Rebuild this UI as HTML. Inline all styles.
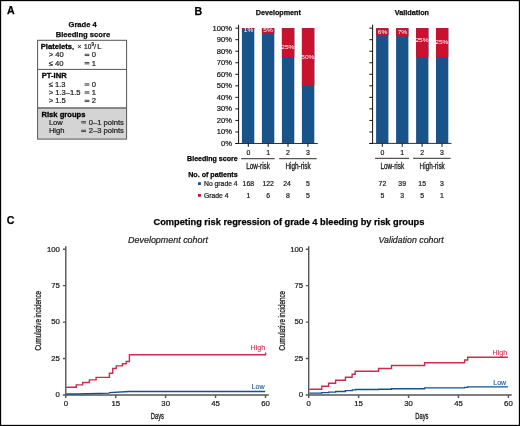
<!DOCTYPE html>
<html><head><meta charset="utf-8">
<style>
html,body{margin:0;padding:0;background:#fff;}
body{width:520px;height:426px;overflow:hidden;}
svg{display:block;font-family:"Liberation Sans",sans-serif;will-change:transform;}
.b{font-weight:bold;}
</style></head>
<body>
<svg width="520" height="426" viewBox="0 0 520 426">

<rect x="0.55" y="0.55" width="518.9" height="424.9" fill="none" stroke="#000" stroke-width="1.2"/>

<text x="7.0" y="14.2" font-size="10.6" class="b" fill="#000" stroke="#000" stroke-width="0.25">A</text>
<text x="82.6" y="27.2" font-size="7.55" class="b" text-anchor="middle" fill="#111" stroke="#000" stroke-width="0.25">Grade 4</text>
<text x="82.9" y="36.5" font-size="7.6" class="b" text-anchor="middle" fill="#111" stroke="#000" stroke-width="0.25">Bleeding score</text>
<rect x="37.6" y="108.3" width="89" height="30.8" fill="#d4d4d4"/>
<rect x="37.6" y="40.3" width="89" height="98.8" fill="none" stroke="#555" stroke-width="1"/>
<line x1="37.6" y1="69.4" x2="126.6" y2="69.4" stroke="#555" stroke-width="1"/>
<line x1="37.6" y1="108" x2="126.6" y2="108" stroke="#666" stroke-width="1.5"/>
<g font-size="7.6" fill="#222" stroke="#222" stroke-width="0.22">
<text x="40.8" y="49" class="b" fill="#000" stroke="#000" stroke-width="0.3">Platelets<tspan font-weight="normal">,</tspan></text>
<text x="77.2" y="48.9" font-size="7.4" stroke-width="0.1">×</text><text x="84.1" y="48.9" font-size="6.5">10</text><text x="91.4" y="46.4" font-size="4.7">9</text><text x="94.1" y="48.9" font-size="7.4">/</text><text x="97.3" y="48.9" font-size="7.7">L</text>
<text x="48.7" y="57.4">&gt; 40</text>
<text x="48.7" y="65.7">≤ 40</text>
<text x="41.8" y="78.1" class="b" fill="#000" stroke="#000" stroke-width="0.3">PT-INR</text>
<text x="48.7" y="87">≤ 1.3</text>
<text x="48.7" y="95">&gt; 1.3–1.5</text>
<text x="48.7" y="103.4">&gt; 1.5</text>
<text x="41.5" y="116.8" class="b" fill="#000" stroke="#000" stroke-width="0.3">Risk groups</text>
<text x="48.9" y="124.7">Low</text><text x="88.8" y="124.8">0–1 points</text>
<text x="48.9" y="133.3">High</text><text x="88.8" y="133.4">2–3 points</text>
<text x="91.8" y="57.4">0</text><text x="91.8" y="65.7">1</text><text x="91.8" y="87">0</text><text x="91.8" y="95">1</text><text x="91.8" y="103.4">2</text>
</g>
<g fill="#444">
<rect x="84.6" y="53.75" width="4.8" height="0.95"/><rect x="84.6" y="55.10" width="4.8" height="0.95"/>
<rect x="84.6" y="62.05" width="4.8" height="0.95"/><rect x="84.6" y="63.40" width="4.8" height="0.95"/>
<rect x="84.6" y="83.35" width="4.8" height="0.95"/><rect x="84.6" y="84.70" width="4.8" height="0.95"/>
<rect x="84.6" y="91.35" width="4.8" height="0.95"/><rect x="84.6" y="92.70" width="4.8" height="0.95"/>
<rect x="84.6" y="99.75" width="4.8" height="0.95"/><rect x="84.6" y="101.10" width="4.8" height="0.95"/>
<rect x="81.2" y="121.15" width="4.8" height="0.95"/><rect x="81.2" y="122.50" width="4.8" height="0.95"/>
<rect x="81.2" y="129.75" width="4.8" height="0.95"/><rect x="81.2" y="131.10" width="4.8" height="0.95"/>
</g>

<text x="194.5" y="14.5" font-size="10.6" class="b" fill="#000" stroke="#000" stroke-width="0.25">B</text>
<text x="278.3" y="14.8" font-size="7.2" class="b" text-anchor="middle" fill="#111" stroke="#000" stroke-width="0.25">Development</text>
<text x="411.9" y="14.6" font-size="7.25" class="b" text-anchor="middle" fill="#111" stroke="#000" stroke-width="0.25">Validation</text>

<rect x="241.9" y="28.15" width="12.4" height="115.35" fill="#185489"/><rect x="241.9" y="28.15" width="12.4" height="1.10" fill="#c81230"/>
<rect x="261.9" y="28.15" width="12.4" height="115.35" fill="#185489"/><rect x="261.9" y="28.15" width="12.4" height="5.42" fill="#c81230"/>
<rect x="281.9" y="28.15" width="12.4" height="115.35" fill="#185489"/><rect x="281.9" y="28.15" width="12.4" height="28.84" fill="#c81230"/>
<rect x="301.9" y="28.15" width="12.4" height="115.35" fill="#185489"/><rect x="301.9" y="28.15" width="12.4" height="57.67" fill="#c81230"/>

<rect x="376.1" y="28.15" width="12.3" height="115.35" fill="#185489"/><rect x="376.1" y="28.15" width="12.3" height="7.50" fill="#c81230"/>
<rect x="396.1" y="28.15" width="12.3" height="115.35" fill="#185489"/><rect x="396.1" y="28.15" width="12.3" height="8.31" fill="#c81230"/>
<rect x="416.1" y="28.15" width="12.3" height="115.35" fill="#185489"/><rect x="416.1" y="28.15" width="12.3" height="28.84" fill="#c81230"/>
<rect x="436.0" y="28.15" width="12.3" height="115.35" fill="#185489"/><rect x="436.0" y="28.15" width="12.3" height="28.84" fill="#c81230"/>

<g font-size="5.7" fill="#fff">
<text x="248.6" y="32.4" text-anchor="middle" transform="translate(248.6 0) scale(1.15 1) translate(-248.6 0)">1%</text><text x="268" y="32.5" text-anchor="middle" transform="translate(268 0) scale(1.15 1) translate(-268 0)">5%</text><text x="287.9" y="48.7" text-anchor="middle" transform="translate(287.9 0) scale(1.15 1) translate(-287.9 0)">25%</text><text x="307.9" y="58.7" text-anchor="middle" transform="translate(307.9 0) scale(1.15 1) translate(-307.9 0)">50%</text>
<text x="382.5" y="33.6" text-anchor="middle" transform="translate(382.5 0) scale(1.15 1) translate(-382.5 0)">6%</text><text x="402.4" y="33.6" text-anchor="middle" transform="translate(402.4 0) scale(1.15 1) translate(-402.4 0)">7%</text><text x="422" y="42.5" text-anchor="middle" transform="translate(422 0) scale(1.15 1) translate(-422 0)">25%</text><text x="441.8" y="44.3" text-anchor="middle" transform="translate(441.8 0) scale(1.15 1) translate(-441.8 0)">25%</text>
</g>
<g stroke="#111" stroke-width="1" fill="none">
<line x1="238.6" y1="24.8" x2="238.6" y2="144"/>
<line x1="235.3" y1="143.5" x2="317.8" y2="143.5" stroke="#333"/>
<path d="M235.4 28.15H238.6M235.4 39.69H238.6M235.4 51.22H238.6M235.4 62.75H238.6M235.4 74.29H238.6M235.4 85.82H238.6M235.4 97.36H238.6M235.4 108.89H238.6M235.4 120.43H238.6M235.4 131.96H238.6M235.4 143.50H238.6"/>
<path d="M248.3 143.5V146.8M268.2 143.5V146.8M288 143.5V146.8M307.9 143.5V146.8"/>
<line x1="372.6" y1="24.8" x2="372.6" y2="144"/>
<line x1="369.3" y1="143.4" x2="451.5" y2="143.4" stroke="#333"/>
<path d="M369.4 28.15H372.6M369.4 39.69H372.6M369.4 51.22H372.6M369.4 62.75H372.6M369.4 74.29H372.6M369.4 85.82H372.6M369.4 97.36H372.6M369.4 108.89H372.6M369.4 120.43H372.6M369.4 131.96H372.6M369.4 143.50H372.6"/>
<path d="M382.3 143.4V146.8M402.2 143.4V146.8M422.1 143.4V146.8M442 143.4V146.8"/>
</g>
<g font-size="6.9" fill="#1a1a1a" text-anchor="end" transform="translate(232 0) scale(1.1 1) translate(-232 0)" stroke="#1a1a1a" stroke-width="0.22">
<text x="232" y="30.60">100%</text>
<text x="232" y="42.14">90%</text>
<text x="232" y="53.67">80%</text>
<text x="232" y="65.20">70%</text>
<text x="232" y="76.74">60%</text>
<text x="232" y="88.27">50%</text>
<text x="232" y="99.81">40%</text>
<text x="232" y="111.34">30%</text>
<text x="232" y="122.88">20%</text>
<text x="232" y="134.41">10%</text>
<text x="232" y="145.95">0%</text>
</g>
<g font-size="6.9" fill="#1a1a1a" text-anchor="middle" stroke="#1a1a1a" stroke-width="0.22">
<text x="248.3" y="155.2">0</text>
<text x="268.2" y="155.2">1</text>
<text x="288" y="155.2">2</text>
<text x="307.9" y="155.2">3</text>
<text x="382.3" y="155.2">0</text>
<text x="402.2" y="155.2">1</text>
<text x="422.1" y="155.2">2</text>
<text x="442" y="155.2">3</text>
</g>
<g stroke="#555" stroke-width="1.2">
<line x1="241.2" y1="158.6" x2="274.6" y2="158.6"/>
<line x1="279.2" y1="158.6" x2="316.7" y2="158.6"/>
<line x1="375" y1="158.4" x2="409.1" y2="158.4"/>
<line x1="413.1" y1="158.4" x2="450.6" y2="158.4"/>
</g>
<g font-size="8.4" fill="#1a1a1a" stroke="#1a1a1a" stroke-width="0.3" text-anchor="middle">
<text x="258.1" y="168.8" transform="translate(258.1 0) scale(0.76 1) translate(-258.1 0)">Low-risk</text>
<text x="298" y="168.8" transform="translate(298 0) scale(0.76 1) translate(-298 0)">High-risk</text>
<text x="392.3" y="168.7" transform="translate(392.3 0) scale(0.76 1) translate(-392.3 0)">Low-risk</text>
<text x="432.2" y="168.7" transform="translate(432.2 0) scale(0.76 1) translate(-432.2 0)">High-risk</text>
</g>
<text x="187.1" y="160.8" font-size="7.05" class="b" fill="#000" stroke="#000" stroke-width="0.25">Bleeding score</text>
<text x="188.2" y="177.2" font-size="7.14" class="b" fill="#000" stroke="#000" stroke-width="0.25">No. of patients</text>
<rect x="198" y="182.2" width="2.9" height="2.8" fill="#185489"/>
<rect x="198" y="194" width="2.9" height="2.8" fill="#c81230"/>
<g font-size="6.8" fill="#1a1a1a" stroke="#1a1a1a" stroke-width="0.22">
<text x="204" y="186.1">No grade 4</text>
<text x="204" y="197.7">Grade 4</text>
</g>
<g font-size="6.9" fill="#1a1a1a" text-anchor="middle" stroke="#1a1a1a" stroke-width="0.22">
<text x="248.3" y="186.1">168</text><text x="268.2" y="186.1">122</text><text x="287.1" y="186.1">24</text><text x="307.9" y="186.1">5</text>
<text x="248.3" y="197.7">1</text><text x="268.2" y="197.7">6</text><text x="287.9" y="197.7">8</text><text x="307.9" y="197.7">5</text>
<text x="382.4" y="186.4">72</text><text x="402.2" y="186.4">39</text><text x="422.2" y="186.4">15</text><text x="442" y="186.4">3</text>
<text x="382.4" y="197.6">5</text><text x="402.2" y="197.6">3</text><text x="422.2" y="197.6">5</text><text x="442" y="197.6">1</text>
</g>

<text x="6.8" y="223.6" font-size="10.6" class="b" fill="#000" stroke="#000" stroke-width="0.25">C</text>
<text x="153.5" y="224.8" font-size="9.26" class="b" fill="#000" stroke="#000" stroke-width="0.25">Competing risk regression of grade 4 bleeding by risk groups</text>
<text x="128.1" y="242.9" font-size="8.94" font-style="italic" fill="#222" stroke="#222" stroke-width="0.22">Development cohort</text>
<text x="378.5" y="242.6" font-size="8.81" font-style="italic" fill="#222" stroke="#222" stroke-width="0.22">Validation cohort</text>

<g stroke="#555" stroke-width="1.4" fill="none"><line x1="65.8" y1="246.2" x2="65.8" y2="395.6"/><line x1="65.1" y1="395" x2="268.8" y2="395"/><path d="M62.9 249.20H65.8M62.9 285.65H65.8M62.9 322.10H65.8M62.9 358.55H65.8M62.9 395.00H65.8"/><path d="M65.80 395V398M115.72 395V398M165.65 395V398M215.57 395V398M265.50 395V398"/></g>
<g font-size="7.8" fill="#1a1a1a" text-anchor="end" stroke="#1a1a1a" stroke-width="0.22"><text x="59.9" y="251.50">100</text><text x="59.9" y="287.95">75</text><text x="59.9" y="324.40">50</text><text x="59.9" y="360.85">25</text><text x="59.9" y="397.30">0</text></g>
<g font-size="7.8" fill="#1a1a1a" text-anchor="middle" stroke="#1a1a1a" stroke-width="0.22"><text x="65.80" y="406.1">0</text><text x="115.72" y="406.1">15</text><text x="165.65" y="406.1">30</text><text x="215.57" y="406.1">45</text><text x="265.50" y="406.1">60</text></g>
<text x="157.4" y="419.1" font-size="8.8" fill="#1a1a1a" stroke="#1a1a1a" stroke-width="0.3" text-anchor="middle" transform="translate(157.4 0) scale(0.66 1) translate(-157.4 0)">Days</text>
<text transform="translate(40.9 320.7) rotate(-90) scale(0.68 1)" font-size="9.2" fill="#1a1a1a" stroke="#1a1a1a" stroke-width="0.3" text-anchor="middle">Cumulative incidence</text>

<g stroke="#555" stroke-width="1.4" fill="none"><line x1="308.7" y1="246.2" x2="308.7" y2="395.6"/><line x1="308.0" y1="395" x2="511.7" y2="395"/><path d="M305.8 249.20H308.7M305.8 285.65H308.7M305.8 322.10H308.7M305.8 358.55H308.7M305.8 395.00H308.7"/><path d="M308.70 395V398M358.62 395V398M408.55 395V398M458.47 395V398M508.40 395V398"/></g>
<g font-size="7.8" fill="#1a1a1a" text-anchor="end" stroke="#1a1a1a" stroke-width="0.22"><text x="303.2" y="251.50">100</text><text x="303.2" y="287.95">75</text><text x="303.2" y="324.40">50</text><text x="303.2" y="360.85">25</text><text x="303.2" y="397.30">0</text></g>
<g font-size="7.8" fill="#1a1a1a" text-anchor="middle" stroke="#1a1a1a" stroke-width="0.22"><text x="308.70" y="406.1">0</text><text x="358.62" y="406.1">15</text><text x="408.55" y="406.1">30</text><text x="458.47" y="406.1">45</text><text x="508.40" y="406.1">60</text></g>
<text x="421.9" y="419.1" font-size="8.8" fill="#1a1a1a" stroke="#1a1a1a" stroke-width="0.3" text-anchor="middle" transform="translate(421.9 0) scale(0.66 1) translate(-421.9 0)">Days</text>
<text transform="translate(285.1 320.7) rotate(-90) scale(0.68 1)" font-size="9.2" fill="#1a1a1a" stroke="#1a1a1a" stroke-width="0.3" text-anchor="middle">Cumulative incidence</text>

<path d="M66.3 387.3H76.3V384.9H82.7V382.5H89.4V379.9H96.1V377.4H109.4V373.2H112.7V368.5H116.2V365.9H122.5V363.7H126.2V361.5H129.4V354.8H265.6V352.6" fill="none" stroke="#cd2a4e" stroke-width="1.4"/>
<path d="M66.3 394H76.5L109 393.1L109.4 392.6L129.2 391.5H265.2" fill="none" stroke="#16508e" stroke-width="1.4"/>
<text x="250.6" y="349.5" font-size="7.1" fill="#cd2a4e" stroke="#cd2a4e" stroke-width="0.1">High</text>
<text x="251.5" y="388.5" font-size="7.1" fill="#16508e" stroke="#16508e" stroke-width="0.1">Low</text>
<path d="M309.4 389.3H321.7V386.3H328.6V383.2H335.6V380.2H345.4V377.2H352.1V374.3H355.2V371.3H378.5V368.5H391.5V365.5H424.6V362.8H464.6V360H467.7V357.2H507.9" fill="none" stroke="#cd2a4e" stroke-width="1.4"/>
<path d="M309.4 393.1H321.7V392.6H328.6V392.1H335.6V391.5H345.4V390.6H352.3V389.9H355.7V389.5H378.5V389.3H391.5V388.7H424.6V387.9H464.6V387.4H467.7V386.9H507.9" fill="none" stroke="#16508e" stroke-width="1.4"/>
<text x="492.6" y="354.6" font-size="7.1" fill="#cd2a4e" stroke="#cd2a4e" stroke-width="0.1">High</text>
<text x="493.2" y="384.6" font-size="7.1" fill="#16508e" stroke="#16508e" stroke-width="0.1">Low</text>
</svg>
</body></html>
